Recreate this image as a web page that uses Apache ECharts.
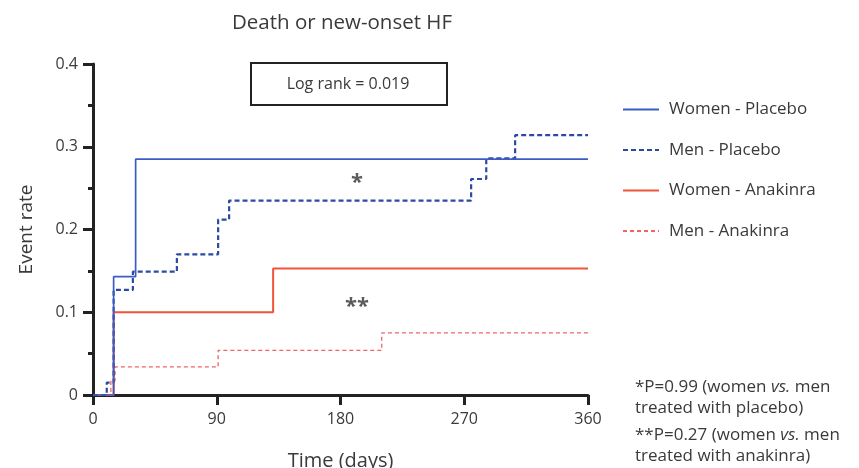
<!DOCTYPE html>
<html>
<head>
<meta charset="utf-8">
<script src="https://cdn.jsdelivr.net/npm/echarts@6/dist/echarts.min.js"></script>
<style>html,body{margin:0;padding:0;background:#fff;}#c{width:859px;height:468px;}</style>
</head>
<body>
<div id="c"></div>
<script>
// ---- data ----
const xTicks = [0, 90, 180, 270, 360];
const yTicks = [0, 0.1, 0.2, 0.3, 0.4];

const seriesNames = ['Women - Placebo', 'Men - Placebo', 'Women - Anakinra', 'Men - Anakinra'];

const womenPlaceboDays  = [0, 15, 31, 360];
const womenPlaceboRates = [0, 0.143, 0.285, 0.285];

const menPlaceboDays  = [0, 10, 15, 29, 61, 91, 99, 275, 286, 307, 360];
const menPlaceboRates = [0, 0.015, 0.127, 0.149, 0.170, 0.212, 0.235, 0.261, 0.286, 0.314, 0.314];

const womenAnakinraDays  = [0, 15, 131, 360];
const womenAnakinraRates = [0, 0.100, 0.153, 0.153];

const menAnakinraDays  = [0, 13, 16, 91, 210, 360];
const menAnakinraRates = [0, 0.017, 0.034, 0.054, 0.075, 0.075];

const starMarks = [[192, 0.257, '*'], [192, 0.107, '**']];

const zip = (a, b) => a.map((v, i) => [v, b[i]]);
const FONT = '"Open Sans", "Noto Sans", sans-serif';
const TXT = '#3a3a3a';

const chart = echarts.init(document.getElementById('c'), null, {renderer: 'canvas'});
chart.setOption({
  animation: false,
  backgroundColor: '#fff',
  title: {
    text: 'Death or new-onset HF',
    left: 337, top: 8, textAlign: 'center',
    textStyle: {fontFamily: FONT, fontSize: 20.5, fontWeight: 'normal', color: TXT}
  },
  grid: {left: 93, right: 271, top: 64, bottom: 73, containLabel: false, outerBoundsMode: 'none'},
  legend: {
    orient: 'vertical', left: 617, top: 96,
    itemWidth: 36, itemHeight: 14, itemGap: 23.5,
    data: seriesNames,
    itemStyle: {opacity: 0},
    textStyle: {fontFamily: FONT, fontSize: 17, color: TXT, padding: [0, 0, 0, 5]}
  },
  xAxis: {
    type: 'value', min: 0, max: 360, interval: 90,
    name: 'Time (days)', nameLocation: 'middle', nameGap: 56,
    nameTextStyle: {fontFamily: FONT, fontSize: 20, color: TXT},
    axisLine: {show: true, onZero: false, lineStyle: {color: '#222', width: 3}},
    axisTick: {show: true, length: 10, lineStyle: {color: '#222', width: 3}},
    axisLabel: {fontFamily: FONT, fontSize: 16, color: TXT, margin: 16,
      formatter: v => xTicks.includes(v) ? String(v) : ''},
    splitLine: {show: false}
  },
  yAxis: {
    type: 'value', min: 0, max: 0.4, interval: 0.1,
    name: 'Event rate', nameLocation: 'middle', nameGap: 57, nameRotate: 90,
    nameTextStyle: {fontFamily: FONT, fontSize: 19, color: TXT},
    axisLine: {show: true, lineStyle: {color: '#222', width: 3}},
    axisTick: {show: true, length: 10, lineStyle: {color: '#222', width: 3}},
    minorTick: {show: true, splitNumber: 2, length: 5, lineStyle: {color: '#222', width: 3}},
    minorSplitLine: {show: false},
    axisLabel: {fontFamily: FONT, fontSize: 16, color: TXT, margin: 15,
      formatter: v => { const r = Math.round(v * 10) / 10; return yTicks.includes(r) ? (r === 0 ? '0' : r.toFixed(1)) : ''; }},
    splitLine: {show: false}
  },
  series: [
    {
      name: 'Men - Anakinra', type: 'line', step: 'end', symbol: 'none', z: 2,
      data: zip(menAnakinraDays, menAnakinraRates),
      lineStyle: {color: '#f06464', width: 1.3, type: [4, 3]}, itemStyle: {color: '#f06464'}
    },
    {
      name: 'Women - Anakinra', type: 'line', step: 'end', symbol: 'none', z: 3,
      data: zip(womenAnakinraDays, womenAnakinraRates),
      lineStyle: {color: '#f0553a', width: 2}, itemStyle: {color: '#f0553a'}
    },
    {
      name: 'Men - Placebo', type: 'line', step: 'end', symbol: 'none', z: 4,
      data: zip(menPlaceboDays, menPlaceboRates),
      lineStyle: {color: '#2c4aa2', width: 2.2, type: [5, 3]}, itemStyle: {color: '#2c4aa2'}
    },
    {
      name: 'Women - Placebo', type: 'line', step: 'end', symbol: 'none', z: 5,
      data: zip(womenPlaceboDays, womenPlaceboRates),
      lineStyle: {color: '#3a5cc4', width: 1.7}, itemStyle: {color: '#3a5cc4'}
    },
    {
      name: 'stars', type: 'scatter', symbolSize: 0, silent: true, z: 6,
      data: starMarks.map(m => ({value: [m[0], m[1]], label: {formatter: m[2]}})),
      label: {show: true, position: 'inside', fontFamily: FONT, fontSize: 22, fontWeight: 'bold', color: '#333'}
    }
  ],
  graphic: [
    {
      type: 'rect', left: 250, top: 62, z: 10,
      shape: {width: 196, height: 42},
      style: {fill: '#fff', stroke: '#222', lineWidth: 2}
    },
    {
      type: 'text', x: 348, y: 84, z: 11,
      style: {text: 'Log rank = 0.019', fontFamily: FONT, fontSize: 16, fill: TXT, align: 'center', verticalAlign: 'middle'}
    },
    {
      type: 'text', x: 635, y: 377, z: 11,
      style: {
        text: '*P=0.99 (women {i|vs.} men\ntreated with placebo)',
        rich: {i: {fontStyle: 'italic', fontFamily: FONT, fontSize: 17, fill: TXT}},
        fontFamily: FONT, fontSize: 17, lineHeight: 21, fill: TXT
      }
    },
    {
      type: 'text', x: 635, y: 425, z: 11,
      style: {
        text: '**P=0.27 (women {i|vs.} men\ntreated with anakinra)',
        rich: {i: {fontStyle: 'italic', fontFamily: FONT, fontSize: 17, fill: TXT}},
        fontFamily: FONT, fontSize: 17, lineHeight: 21, fill: TXT
      }
    }
  ]
});
</script>
</body>
</html>
